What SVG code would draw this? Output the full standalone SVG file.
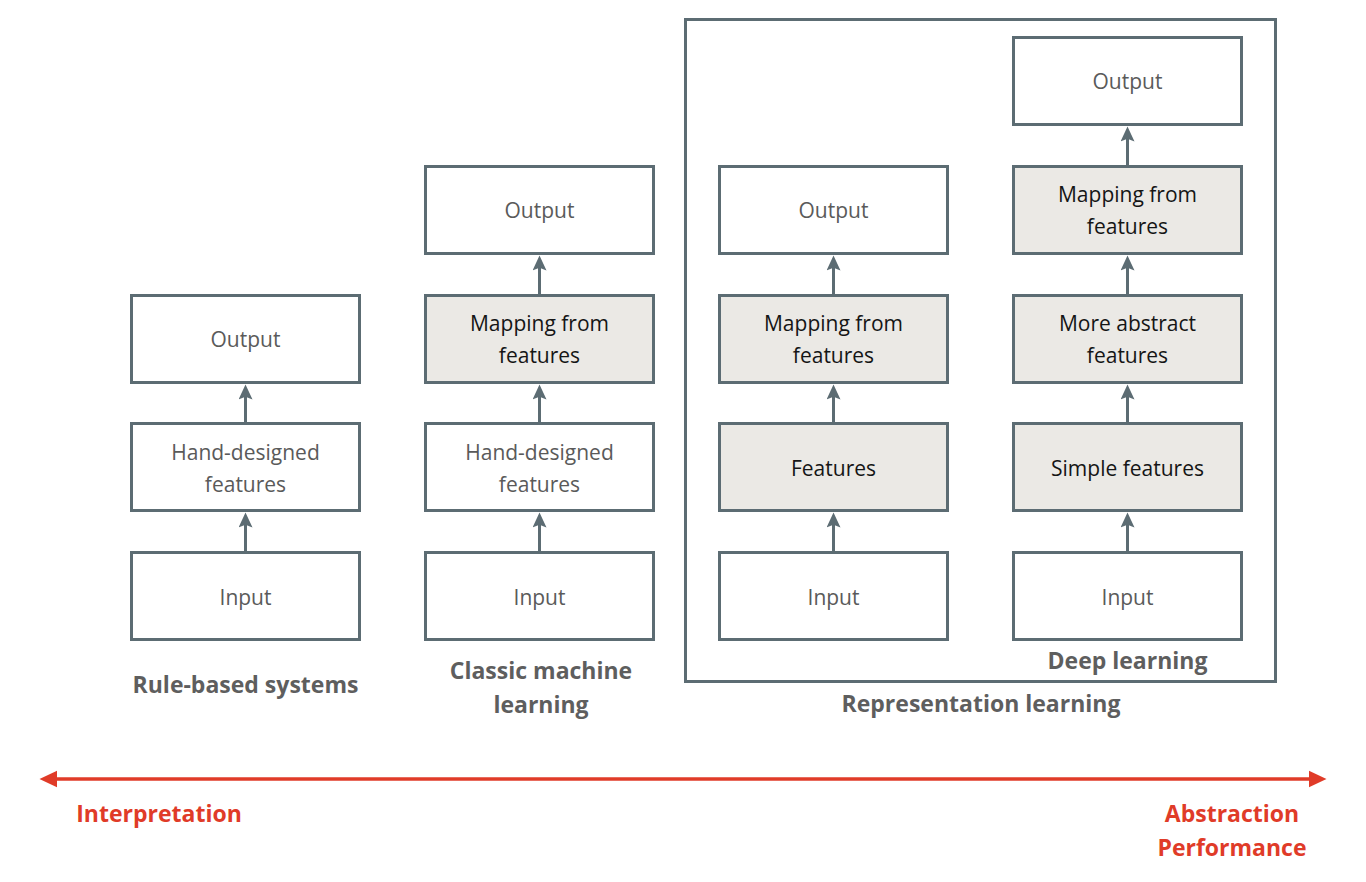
<svg xmlns="http://www.w3.org/2000/svg" width="1366" height="882" viewBox="0 0 1366 882">
<style>
.box{fill:#ffffff;stroke:#5c6c73;stroke-width:3}
.gbox{fill:#ebe9e5;stroke:#5c6c73;stroke-width:3}
.t{font-family:"Open Sans","Noto Sans",sans-serif;font-size:21px;fill:#5a5a5a;text-anchor:middle}
.tg{font-family:"Open Sans","Noto Sans",sans-serif;font-size:21px;fill:#151515;text-anchor:middle}
.lb{font-family:"Open Sans","Noto Sans",sans-serif;font-size:23px;font-weight:bold;fill:#5e5e5e;text-anchor:middle}
.red{font-family:"Open Sans","Noto Sans",sans-serif;font-size:23px;font-weight:bold;fill:#e03b28;text-anchor:middle}
.c{stroke:#5c6c73;stroke-width:3;fill:none;marker-end:url(#ah)}
</style>
<defs>
<marker id="ah" markerUnits="userSpaceOnUse" markerWidth="16" markerHeight="14" viewBox="0 0 14 13" refX="6" refY="6.5" orient="auto">
<path d="M0,0 L14,6.5 L0,13 L2.5,6.5 Z" fill="#5c6c73"/>
</marker>
<marker id="rh" markerUnits="userSpaceOnUse" markerWidth="18" markerHeight="18" viewBox="0 0 17 16" refX="8" refY="8" orient="auto-start-reverse">
<path d="M0,0 L17,8 L0,16 Z" fill="#e03b28"/>
</marker>
</defs>
<rect id="representation-learning-frame" x="685.5" y="19.5" width="590" height="662" fill="none" stroke="#5c6c73" stroke-width="3"/>
<g id="connectors">
<path class="c" d="M245.5,551 V521"/>
<path class="c" d="M245.5,422 V393"/>
<path class="c" d="M539.5,551 V521"/>
<path class="c" d="M539.5,422 V393"/>
<path class="c" d="M539.5,294 V264"/>
<path class="c" d="M833.5,551 V521"/>
<path class="c" d="M833.5,422 V393"/>
<path class="c" d="M833.5,294 V264"/>
<path class="c" d="M1127.5,551 V521"/>
<path class="c" d="M1127.5,422 V393"/>
<path class="c" d="M1127.5,294 V264"/>
<path class="c" d="M1127.5,165 V135"/>
<path d="M49,779 H1317" stroke="#e03b28" stroke-width="3.5" fill="none" marker-start="url(#rh)" marker-end="url(#rh)"/>
</g>
<!-- Column 1 -->
<g id="rb-input"><rect class="box" x="131.5" y="552.5" width="228" height="87"/><text class="t" x="245.5" y="605">Input</text></g>
<g id="rb-hand"><rect class="box" x="131.5" y="423.5" width="228" height="87"/><text class="t" x="245.5" y="460">Hand-designed</text><text class="t" x="245.5" y="492">features</text></g>
<g id="rb-output"><rect class="box" x="131.5" y="295.5" width="228" height="87"/><text class="t" x="245.5" y="347">Output</text></g>
<!-- Column 2 -->
<g id="cml-input"><rect class="box" x="425.5" y="552.5" width="228" height="87"/><text class="t" x="539.5" y="605">Input</text></g>
<g id="cml-hand"><rect class="box" x="425.5" y="423.5" width="228" height="87"/><text class="t" x="539.5" y="460">Hand-designed</text><text class="t" x="539.5" y="492">features</text></g>
<g id="cml-mapping"><rect class="gbox" x="425.5" y="295.5" width="228" height="87"/><text class="tg" x="539.5" y="331">Mapping from</text><text class="tg" x="539.5" y="363">features</text></g>
<g id="cml-output"><rect class="box" x="425.5" y="166.5" width="228" height="87"/><text class="t" x="539.5" y="218">Output</text></g>
<!-- Column 3 -->
<g id="rl-input"><rect class="box" x="719.5" y="552.5" width="228" height="87"/><text class="t" x="833.5" y="605">Input</text></g>
<g id="rl-features"><rect class="gbox" x="719.5" y="423.5" width="228" height="87"/><text class="tg" x="833.5" y="476">Features</text></g>
<g id="rl-mapping"><rect class="gbox" x="719.5" y="295.5" width="228" height="87"/><text class="tg" x="833.5" y="331">Mapping from</text><text class="tg" x="833.5" y="363">features</text></g>
<g id="rl-output"><rect class="box" x="719.5" y="166.5" width="228" height="87"/><text class="t" x="833.5" y="218">Output</text></g>
<!-- Column 4 -->
<g id="dl-input"><rect class="box" x="1013.5" y="552.5" width="228" height="87"/><text class="t" x="1127.5" y="605">Input</text></g>
<g id="dl-simple"><rect class="gbox" x="1013.5" y="423.5" width="228" height="87"/><text class="tg" x="1127.5" y="476">Simple features</text></g>
<g id="dl-abstract"><rect class="gbox" x="1013.5" y="295.5" width="228" height="87"/><text class="tg" x="1127.5" y="331">More abstract</text><text class="tg" x="1127.5" y="363">features</text></g>
<g id="dl-mapping"><rect class="gbox" x="1013.5" y="166.5" width="228" height="87"/><text class="tg" x="1127.5" y="202">Mapping from</text><text class="tg" x="1127.5" y="234">features</text></g>
<g id="dl-output"><rect class="box" x="1013.5" y="37.5" width="228" height="87"/><text class="t" x="1127.5" y="89">Output</text></g>
<!-- Labels -->
<text class="lb" x="245.5" y="693">Rule-based systems</text>
<text class="lb" x="541" y="679">Classic machine</text>
<text class="lb" x="541" y="713">learning</text>
<text class="lb" x="1127.5" y="669">Deep learning</text>
<text class="lb" x="981" y="712">Representation learning</text>
<text class="red" x="159" y="822">Interpretation</text>
<text class="red" x="1232" y="822">Abstraction</text>
<text class="red" x="1232" y="856">Performance</text>
</svg>
